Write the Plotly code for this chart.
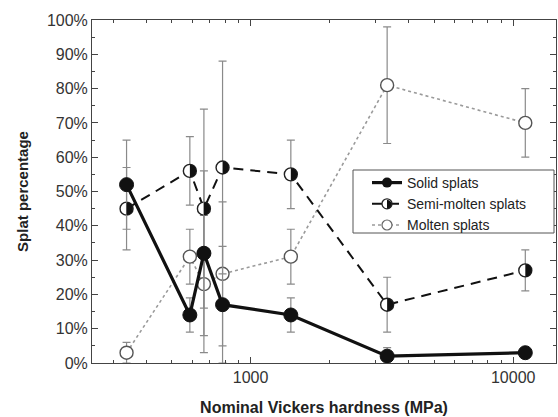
import plotly.graph_objects as go

# ---- data ----
hardness = [337, 587, 664, 782, 1423, 3311, 11120]
solid = [52, 14, 32, 17, 14, 2, 3]
solid_err = [13, 5, 24, 17, 5, 2.5, 1]
semi = [45, 56, 45, 57, 55, 17, 27]
semi_err = [12, 10, 29, 31, 10, 8, 6]
molten = [3, 31, 23, 26, 31, 81, 70]
molten_err = [3, 8, 20, 21, 8, 17, 10]

y_tickvals = [0, 10, 20, 30, 40, 50, 60, 70, 80, 90, 100]
y_ticktext = [f"{v}%" for v in y_tickvals]
y_minor = [5, 15, 25, 35, 45, 55, 65, 75, 85, 95]
x_tickvals = [1000, 10000]
x_ticktext = ["1000", "10000"]
x_minor = [300, 400, 500, 600, 700, 800, 900, 2000, 3000, 4000, 5000, 6000, 7000, 8000, 9000]

FONT = "Liberation Sans, Arial, sans-serif"
ERR = dict(type="data", thickness=1.2, width=4, color="#8a8a8a")

MOLTEN_LINE = dict(color="#9a9a9a", width=1.6, dash="dot")
SEMI_LINE = dict(color="#111111", width=2, dash="10px,7px")
SOLID_LINE = dict(color="#111111", width=3.2)

fig = go.Figure()

# ---- plotted series (legend drawn separately) ----
fig.add_trace(go.Scatter(
    x=hardness, y=molten, name="Molten splats", showlegend=False,
    mode="lines+markers", line=MOLTEN_LINE,
    marker=dict(symbol="circle", size=13, color="white",
                line=dict(color="#555555", width=1.4)),
    error_y=dict(array=molten_err, **ERR),
))
fig.add_trace(go.Scatter(
    x=hardness, y=semi, name="Semi-molten splats", showlegend=False,
    mode="lines+markers", line=SEMI_LINE,
    marker=dict(symbol="circle", size=13, color="white",
                line=dict(color="#222222", width=1.4)),
    error_y=dict(array=semi_err, **ERR),
))
fig.add_trace(go.Scatter(
    x=hardness, y=solid, name="Solid splats", showlegend=False,
    mode="lines+markers", line=SOLID_LINE,
    marker=dict(symbol="circle", size=14, color="#111111",
                line=dict(color="#111111", width=1)),
    error_y=dict(array=solid_err, **ERR),
))

# ---- legend-only entries ----
fig.add_trace(go.Scatter(
    x=[None], y=[None], name="Solid splats", legendrank=1,
    mode="lines+markers", line=SOLID_LINE,
    marker=dict(symbol="circle", size=10, color="#111111"),
))
fig.add_trace(go.Scatter(
    x=[None], y=[None], name="Semi-molten splats", legendrank=2,
    mode="lines+markers", line=SEMI_LINE,
    marker=dict(symbol="circle", size=10, color="rgba(0,0,0,0)",
                line=dict(color="#222222", width=1.3)),
))
fig.add_trace(go.Scatter(
    x=[None], y=[None], name="Molten splats", legendrank=3,
    mode="lines+markers", line=MOLTEN_LINE,
    marker=dict(symbol="circle", size=10, color="white",
                line=dict(color="#666666", width=1.2)),
))

# right half filled for the semi-molten markers
def half_path(r):
    k = 0.5523 * r
    return (f"M 0,{r} C {k},{r} {r},{k} {r},0 "
            f"C {r},{-k} {k},{-r} 0,{-r} Z")

def disc_path(r):
    k = 0.5523 * r
    return (f"M 0,{r} C {k},{r} {r},{k} {r},0 "
            f"C {r},{-k} {k},{-r} 0,{-r} "
            f"C {-k},{-r} {-r},{-k} {-r},0 "
            f"C {-r},{k} {-k},{r} 0,{r} Z")

shapes = []
for xv, yv in zip(hardness, semi):
    shapes.append(dict(type="path", xref="x", yref="y",
                       xsizemode="pixel", ysizemode="pixel",
                       xanchor=xv, yanchor=yv, path=half_path(6.3),
                       fillcolor="#111111", line=dict(width=0)))

PW, PH = 464, 343  # plot area size in px
# legend frame
shapes.append(dict(type="rect", xref="paper", yref="paper",
                   x0=261 / PW, x1=462 / PW, y0=130 / PH, y1=193 / PH,
                   fillcolor="white", line=dict(color="#555555", width=1)))

LEG_X = 275 / PW   # legend (transparent) left edge
LEG_Y = 196 / PH   # legend top edge
sym_x = LEG_X + 20 / PW
sym_y = LEG_Y - 37.5 / PH
shapes.append(dict(type="path", xref="paper", yref="paper",
                   xsizemode="pixel", ysizemode="pixel",
                   xanchor=sym_x, yanchor=sym_y, path=disc_path(4.6),
                   fillcolor="white", line=dict(width=0)))
shapes.append(dict(type="path", xref="paper", yref="paper",
                   xsizemode="pixel", ysizemode="pixel",
                   xanchor=sym_x, yanchor=sym_y, path=half_path(4.6),
                   fillcolor="#111111", line=dict(width=0)))

fig.update_layout(
    width=558, height=417,
    margin=dict(l=92, r=2, t=20, b=54),
    paper_bgcolor="white", plot_bgcolor="white",
    font=dict(family=FONT, color="#333333"),
    shapes=shapes,
    showlegend=True,
    legend=dict(x=LEG_X, y=LEG_Y, xanchor="left", yanchor="top",
                bgcolor="rgba(0,0,0,0)", borderwidth=0,
                font=dict(size=14, color="#222222"),
                tracegroupgap=0, itemwidth=30),
)

fig.update_xaxes(
    type="log", range=[2.396, 4.163],
    tickmode="array", tickvals=x_tickvals, ticktext=x_ticktext,
    ticks="inside", ticklen=6, tickcolor="#444444",
    showline=True, linecolor="#444444", linewidth=1, mirror="ticks",
    showgrid=False, zeroline=False,
    tickfont=dict(size=16, color="#333333"),
    minor=dict(tickmode="array", tickvals=x_minor, ticks="inside",
               ticklen=3, tickcolor="#444444", showgrid=False),
    title=dict(text="<b>Nominal Vickers hardness (MPa)</b>",
               font=dict(size=16, color="#222222"), standoff=16),
)
fig.update_yaxes(
    range=[0, 100],
    tickmode="array", tickvals=y_tickvals, ticktext=y_ticktext,
    ticks="inside", ticklen=6, tickcolor="#444444",
    showline=True, linecolor="#444444", linewidth=1, mirror="ticks",
    showgrid=False, zeroline=False,
    tickfont=dict(size=16, color="#333333"),
    minor=dict(tickmode="array", tickvals=y_minor, ticks="inside",
               ticklen=3, tickcolor="#444444", showgrid=False),
    title=dict(text="<b>Splat percentage</b>",
               font=dict(size=15, color="#222222"), standoff=14),
)

fig.write_html("out.html")
